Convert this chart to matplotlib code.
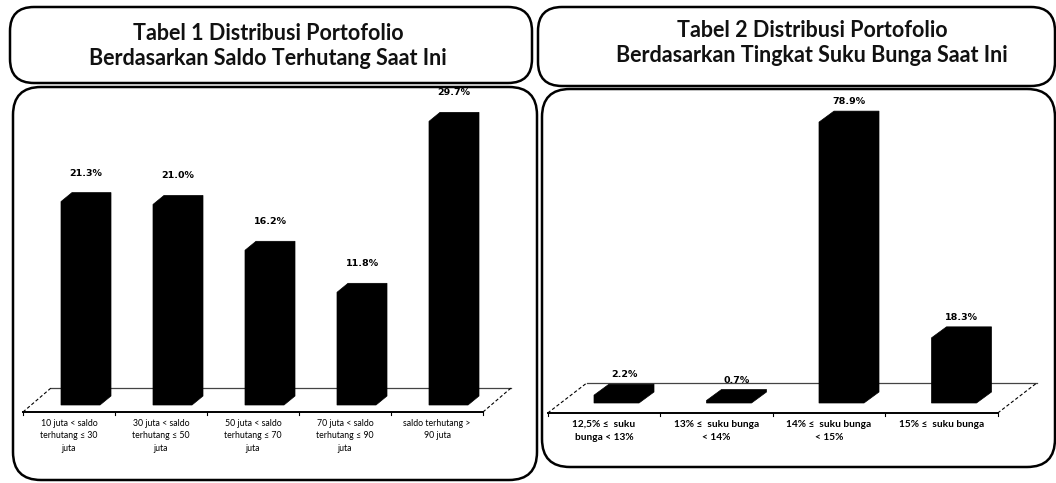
import matplotlib
matplotlib.use('Agg')
import matplotlib.pyplot as plt
from matplotlib.patches import FancyBboxPatch, Polygon

# data
saldo_labels = ['10 juta < saldo\nterhutang ≤ 30\njuta',
                '30 juta < saldo\nterhutang ≤ 50\njuta',
                '50 juta < saldo\nterhutang ≤ 70\njuta',
                '70 juta < saldo\nterhutang ≤ 90\njuta',
                'saldo terhutang >\n90 juta']
saldo_pct = [21.3, 21.0, 16.2, 11.8, 29.7]

bunga_labels = ['12,5% ≤  suku\nbunga < 13%',
                '13% ≤  suku bunga\n< 14%',
                '14% ≤  suku bunga\n< 15%',
                '15% ≤  suku bunga']
bunga_pct = [2.2, 0.7, 78.9, 18.3]

title1 = 'Tabel 1 Distribusi Portofolio\nBerdasarkan Saldo Terhutang Saat Ini'
title2 = 'Tabel 2 Distribusi Portofolio\nBerdasarkan Tingkat Suku Bunga Saat Ini'

W, H = 1056, 483
fig = plt.figure(figsize=(W / 100, H / 100), dpi=100)
bg = fig.add_axes([0, 0, 1, 1])
bg.set_xlim(0, W)
bg.set_ylim(H, 0)
bg.axis('off')

def box(x0, y0, x1, y1, r):
    bg.add_patch(FancyBboxPatch((x0, y0), x1 - x0, y1 - y0,
                                boxstyle='round,pad=0,rounding_size=%d' % r,
                                fc='white', ec='black', lw=1.8))

# title boxes and chart boxes (pixel coords)
box(10, 7, 532, 83, 24)
box(13, 87, 537, 480, 28)
box(538, 7, 1055, 86, 24)
box(542, 89, 1055, 467, 28)

bg.text(268, 46, title1, ha='center', va='center', fontsize=15.5,
        weight='bold', family=['Lato', 'DejaVu Sans'], linespacing=1.25,
        color='#111')
bg.text(812, 43, title2, ha='center', va='center', fontsize=15.5,
        weight='bold', family=['Lato', 'DejaVu Sans'], linespacing=1.25,
        color='#111')


def chart(values, labels, bx, cx0, step, base, ppv, bar_off, bar_w, depth,
          floor_front, floor_back, floor_shift, lab_fs, lab_w, lab_top,
          lab_ls, gap):
    x0, y0, x1, y1 = bx
    ax = fig.add_axes([x0 / W, 1 - y1 / H, (x1 - x0) / W, (y1 - y0) / H])
    ax.set_xlim((x0 - cx0) / step, (x1 - cx0) / step)
    ax.set_ylim((base - y1) / ppv, (base - y0) / ppv)
    ax.axis('off')
    ax.patch.set_alpha(0)
    n = len(values)

    # floor
    yf = (base - floor_front) / ppv
    yb = (base - floor_back) / ppv
    sx = floor_shift / step
    ax.plot([-0.5, n - 0.5], [yf, yf], color='black', lw=1.4, zorder=2)
    ax.plot([-0.5 + sx, n - 0.5 + sx], [yb, yb], color='#444', lw=0.9, zorder=1)
    for xe in (-0.5, n - 0.5):
        ax.plot([xe, xe + sx], [yf, yb], color='black', lw=0.8,
                ls=(0, (3, 2)), zorder=2)
    for k in range(n + 1):
        ax.plot([k - 0.5, k - 0.5], [yf, yf - 3 / ppv], color='black', lw=0.8)

    ddx = depth[0] / step
    ddy = depth[1] / ppv
    for i, v in enumerate(values):
        xl = i + bar_off / step
        xr = xl + bar_w / step
        outline = [(xl, 0), (xr, 0), (xr + ddx, ddy), (xr + ddx, v + ddy),
                   (xl + ddx, v + ddy), (xl, v)]
        ax.add_patch(Polygon(outline, closed=True, fc='black', ec='black',
                             lw=0.5, zorder=3))
        ax.text((xl + xr + ddx) / 2, v + ddy + gap / ppv, '%.1f%%' % v,
                ha='center', va='bottom', fontsize=6.8, weight='bold',
                family='DejaVu Sans', zorder=4)
        ax.text(i, (base - lab_top) / ppv, labels[i], ha='center', va='top',
                fontsize=lab_fs, weight=lab_w, linespacing=lab_ls,
                family=['Lato', 'DejaVu Sans'])
    return ax


chart(saldo_pct, saldo_labels, (13, 87, 537, 480), cx0=69, step=92, base=405,
      ppv=9.55, bar_off=-8, bar_w=39, depth=(11, 9), floor_front=412,
      floor_back=388, floor_shift=28, lab_fs=6.3, lab_w='normal', lab_top=419,
      lab_ls=1.5, gap=15)

chart(bunga_pct, bunga_labels, (542, 89, 1055, 467), cx0=604, step=112.5,
      base=403, ppv=3.56, bar_off=-10, bar_w=45, depth=(15, 11),
      floor_front=413, floor_back=383, floor_shift=39, lab_fs=7.3,
      lab_w='bold', lab_top=420, lab_ls=1.5, gap=5)

fig.savefig('out.png', dpi=100)
